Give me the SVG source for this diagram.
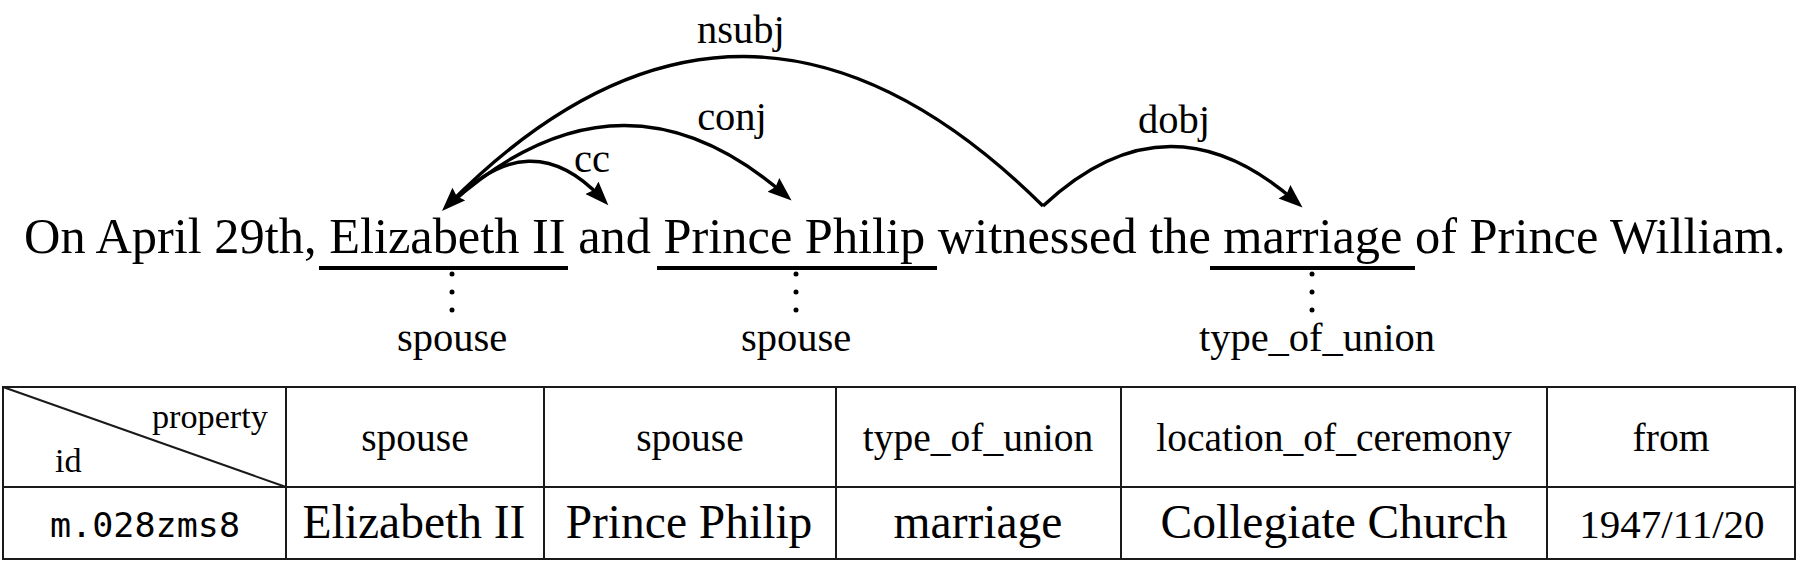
<svg xmlns="http://www.w3.org/2000/svg" width="1802" height="564" viewBox="0 0 1802 564">
<style>
  text { font-family: 'Liberation Serif', 'Times New Roman', serif; fill: #000; }
  .sent { font-size: 50.4px; }
  .lab { font-size: 40.5px; text-anchor: middle; }
  .hdr { font-size: 39.5px; text-anchor: middle; }
  .cell { font-size: 47.5px; text-anchor: middle; }
  text.mono { font-family: 'DejaVu Sans Mono', 'Liberation Mono', monospace; font-size: 33px; text-anchor: middle; }
  .arc { fill: none; stroke: #000; stroke-width: 3.4; marker-end: url(#arrow); }
  .uline { fill: #000; }
  .dot { fill: #000; }
  .grid { stroke: #1a1a1a; stroke-width: 2; fill: none; }
</style>
<defs>
  <marker id="arrow" markerUnits="userSpaceOnUse" markerWidth="26" markerHeight="20" refX="14" refY="9" orient="auto">
    <path d="M0,0 L24,9 L0,18 L3,9 Z" fill="#000"/>
  </marker>
</defs>
<rect width="1802" height="564" fill="#fff"/>

<g id="sentence">
  <text class="sent" x="24" y="253">On April 29th, Elizabeth II and Prince Philip witnessed the marriage of Prince William.</text>
</g>

<g id="node-elizabeth">
  <rect class="uline" x="319" y="266" width="249" height="4"/>
  <circle class="dot" cx="452" cy="274" r="2.5"/>
  <circle class="dot" cx="452" cy="292" r="2.5"/>
  <circle class="dot" cx="452" cy="310" r="2.5"/>
  <text class="lab" x="452" y="351">spouse</text>
</g>
<g id="node-philip">
  <rect class="uline" x="657" y="266" width="280" height="4"/>
  <circle class="dot" cx="796" cy="274" r="2.5"/>
  <circle class="dot" cx="796" cy="292" r="2.5"/>
  <circle class="dot" cx="796" cy="310" r="2.5"/>
  <text class="lab" x="796" y="351">spouse</text>
</g>
<g id="node-marriage">
  <rect class="uline" x="1210" y="266" width="205" height="4"/>
  <circle class="dot" cx="1312" cy="274" r="2.5"/>
  <circle class="dot" cx="1312" cy="292" r="2.5"/>
  <circle class="dot" cx="1312" cy="310" r="2.5"/>
  <text class="lab" x="1317" y="351">type_of_union</text>
</g>

<g id="connectors">
  <path class="arc" d="M1043,206 Q742,-92 449,204"/>
  <path class="arc" d="M450,204 Q620,52 784,194"/>
  <path class="arc" d="M452,203 Q530,122 601.5,198"/>
  <path class="arc" d="M1043,206 Q1167.5,89.5 1295,201"/>
  <text class="lab" x="741" y="43">nsubj</text>
  <text class="lab" x="732" y="130">conj</text>
  <text class="lab" x="592" y="172">cc</text>
  <text class="lab" x="1174" y="133">dobj</text>
</g>

<g id="table">
  <rect class="grid" x="3" y="387" width="1792" height="172"/>
  <line class="grid" x1="3" y1="487" x2="1795" y2="487"/>
  <line class="grid" x1="286" y1="387" x2="286" y2="559"/>
  <line class="grid" x1="544" y1="387" x2="544" y2="559"/>
  <line class="grid" x1="836" y1="387" x2="836" y2="559"/>
  <line class="grid" x1="1121" y1="387" x2="1121" y2="559"/>
  <line class="grid" x1="1547" y1="387" x2="1547" y2="559"/>
  <line class="grid" x1="3" y1="387" x2="286" y2="487"/>
  <text x="152" y="428" font-size="34.2">property</text>
  <text x="55" y="472" font-size="34.2">id</text>
  <text class="hdr" x="415" y="451">spouse</text>
  <text class="hdr" x="690" y="451">spouse</text>
  <text class="hdr" x="978" y="451">type_of_union</text>
  <text class="hdr" x="1334" y="451">location_of_ceremony</text>
  <text class="hdr" x="1671" y="451">from</text>
  <text class="mono" x="145" y="537" textLength="190" lengthAdjust="spacingAndGlyphs">m.028zms8</text>
  <text class="cell" x="414" y="538">Elizabeth II</text>
  <text class="cell" x="689" y="538">Prince Philip</text>
  <text class="cell" x="978" y="538">marriage</text>
  <text class="cell" x="1334" y="538">Collegiate Church</text>
  <text x="1672" y="538" font-size="41" text-anchor="middle">1947/11/20</text>
</g>
</svg>
